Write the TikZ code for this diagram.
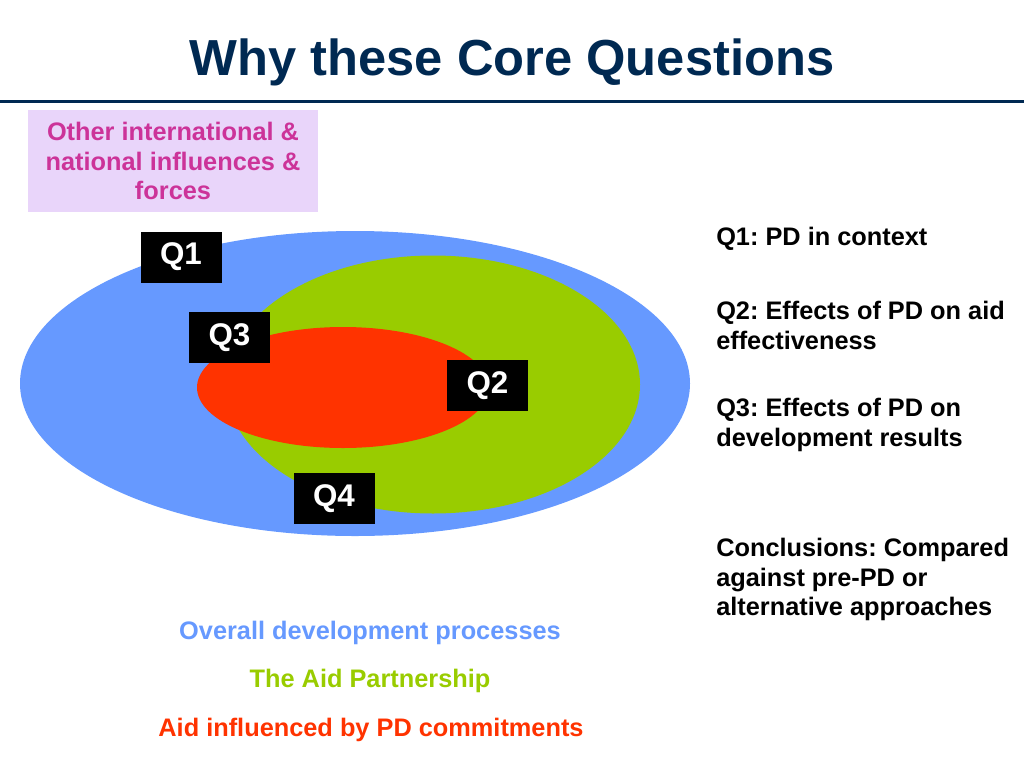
\documentclass[tikz,border=0pt]{standalone}
\usepackage{fontspec}
\setmainfont{Liberation Sans}
\frenchspacing

\begin{document}
\begin{tikzpicture}[x=0.75pt,y=0.75pt,yscale=-1,xscale=1,
  qbox/.style={fill=black, text=white, inner sep=0pt, minimum width=60.75pt, minimum height=38.25pt, font=\fontsize{23.5}{28}\selectfont\bfseries},
  bodytext/.style={inner sep=0pt, font=\fontsize{19}{22.3}\selectfont\bfseries}]
%set diagram left start at 0, and has height of 768
\path [use as bounding box] (0,0) rectangle (1024,768);

%Straight Lines [id:title rule] 
\draw [color={rgb, 255:red, 0; green, 41; blue, 82 }  ,draw opacity=1 ][line width=2.25pt]   (0,101) -- (1024,101) ;
%Shape: Ellipse [id:overall] 
\fill [color={rgb, 255:red, 102; green, 153; blue, 255 }  ,fill opacity=1 ]  (355,383.5) ellipse (335 and 152.5) ;
%Shape: Ellipse [id:partnership] 
\fill [color={rgb, 255:red, 153; green, 204; blue, 0 }  ,fill opacity=1 ]  (433,384.5) ellipse (207 and 129) ;
%Shape: Ellipse [id:pdaid] 
\fill [color={rgb, 255:red, 255; green, 51; blue, 0 }  ,fill opacity=1 ]  (343,387.5) ellipse (146 and 60.5) ;

% Text Node
\draw (512,75) node (title) [anchor=base][inner sep=0pt]  [text={rgb, 255:red, 0; green, 41; blue, 82 }  ,opacity=1 ,font=\fontsize{38}{46}\selectfont\bfseries]  {Why these Core Questions};
% Text Node
\draw (173,161) node (influences) [fill={rgb, 255:red, 233; green, 213; blue, 250 }, minimum width=217.5pt, minimum height=76.5pt, align=center][bodytext]  [text={rgb, 255:red, 204; green, 51; blue, 153 }  ,opacity=1 ]  {Other international \&\\national influences \&\\forces};
% Text Node
\draw (181,257) node (q1) [qbox]  {Q1};
% Text Node
\draw (229.5,337.5) node (q3) [qbox]  {Q3};
% Text Node
\draw (487.5,385.5) node (q2) [qbox]  {Q2};
% Text Node
\draw (334,498.5) node (q4) [qbox]  {Q4};
% Text Node
\draw (716,226.7) node (context) [anchor=north west][bodytext]  {Q1: PD in context};
% Text Node
\draw (716,300.7) node (effect) [anchor=north west, align=left][bodytext]  {Q2: Effects of PD on aid\\effectiveness};
% Text Node
\draw (716,397.7) node (results) [anchor=north west, align=left][bodytext]  {Q3: Effects of PD on\\development results};
% Text Node
\draw (716,537.7) node (concl) [anchor=north west, align=left][bodytext]  {Conclusions: Compared\\against pre-PD or\\alternative approaches};
% Text Node
\draw (370,639) node (overall) [anchor=base][bodytext]  [text={rgb, 255:red, 102; green, 153; blue, 255 }  ,opacity=1 ]  {Overall development processes};
% Text Node
\draw (370,687) node (partner) [anchor=base][bodytext]  [text={rgb, 255:red, 153; green, 204; blue, 0 }  ,opacity=1 ]  {The Aid Partnership};
% Text Node
\draw (371,736) node (commit) [anchor=base][bodytext]  [text={rgb, 255:red, 255; green, 51; blue, 0 }  ,opacity=1 ]  {Aid influenced by PD commitments};

\end{tikzpicture}
\end{document}
